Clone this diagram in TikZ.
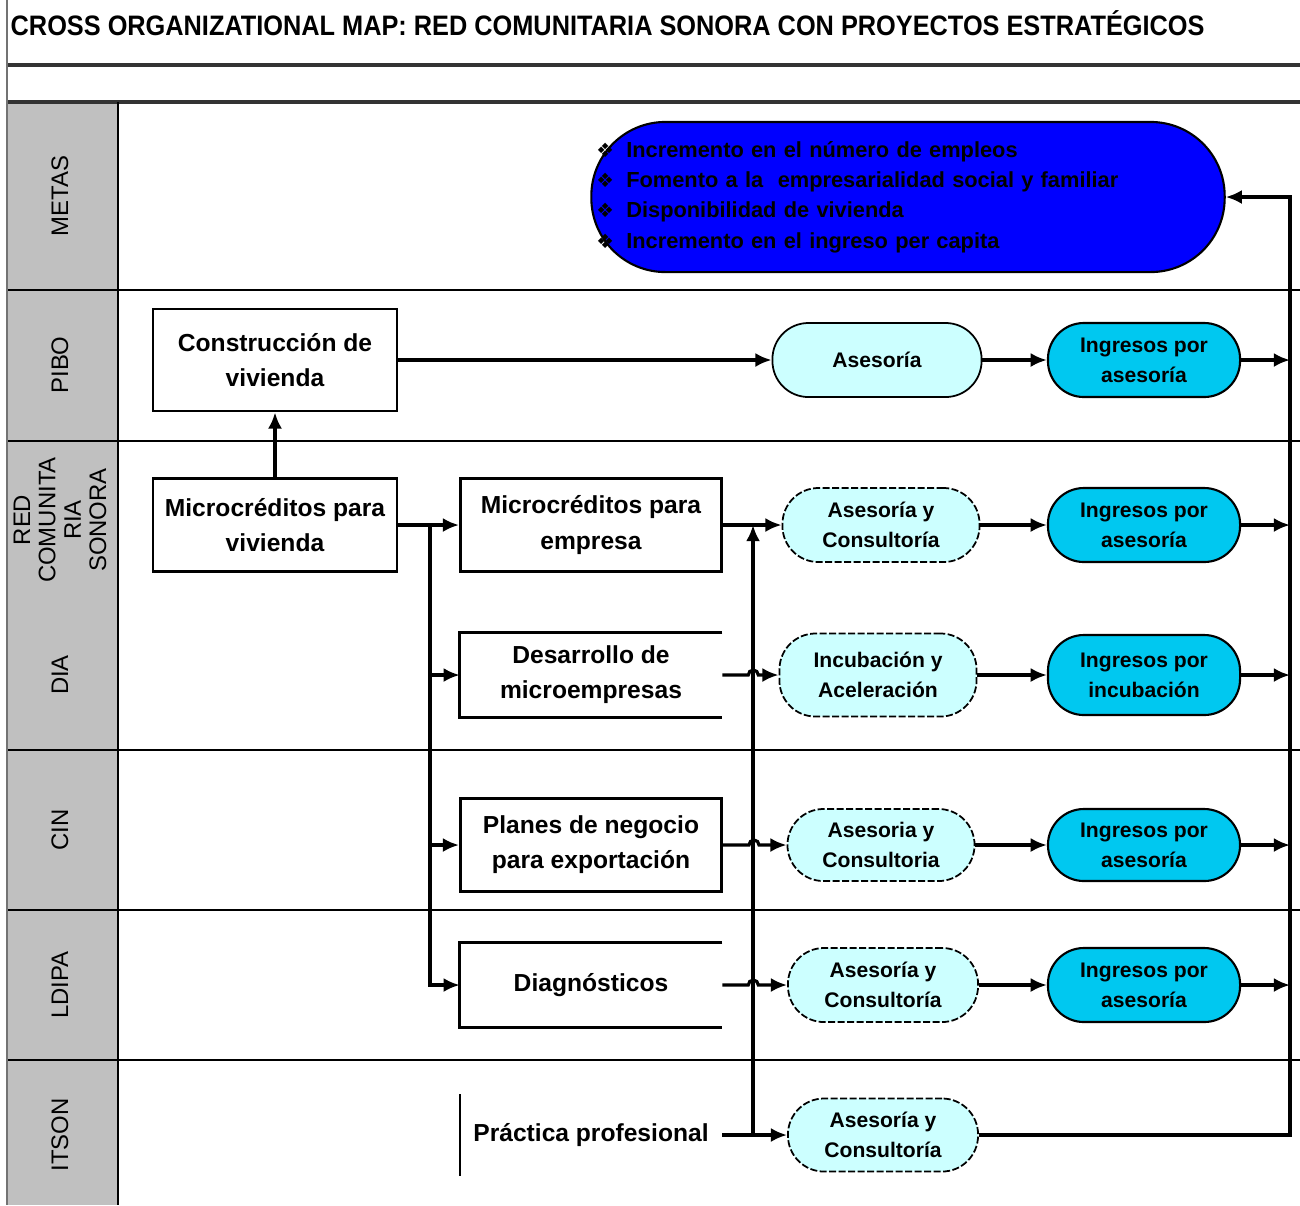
\documentclass[tikz,border=0pt]{standalone}
\usepackage{fontspec}
\setmainfont{Liberation Sans}
\newfontfamily\symfont{DejaVu Sans}
\usetikzlibrary{arrows.meta}

\definecolor{gris}{RGB}{192,192,192}
\definecolor{celeste}{RGB}{204,255,255}
\definecolor{cian}{RGB}{0,200,240}
\definecolor{azul}{RGB}{0,0,255}
\newcommand{\vineta}{\makebox[0.3cm][l]{\symfont\fontsize{5.6}{8.6}\selectfont ❖}}

\begin{document}
\begin{tikzpicture}[x=0.01cm,y=-0.01cm,
  carril/.style={rotate=90,align=center,font=\fontsize{6.8}{7}\selectfont},
  caja/.style={draw,line width=0.8pt,align=center,inner sep=0pt,font=\bfseries\fontsize{7}{10}\selectfont},
  hueco/.style={align=center,inner sep=0pt,font=\bfseries\fontsize{7}{10}\selectfont},
  pale/.style={draw,fill=celeste,line width=0.5pt,dash pattern=on 2pt off 0.7pt,rounded corners=3.6mm,align=center,inner sep=0pt,font=\bfseries\fontsize{6}{8.5}\selectfont},
  ingreso/.style={draw,fill=cian,line width=0.6pt,rounded corners=3.6mm,align=center,inner sep=0pt,minimum width=1.92cm,font=\bfseries\fontsize{6}{8.5}\selectfont},
  flecha/.style={line width=0.9pt,-{Latex[length=4.6pt,width=4pt]}},
  linea/.style={line width=0.9pt}]
\useasboundingbox (0,0) rectangle (1300,1205);
%\draw[step=100] (0,0) grid (1300,1205);

% carriles
\fill[gris] (8,102) rectangle (118,1205);
\draw[black!55,line width=0.4pt] (7,0) -- (7,1205);
\draw[black!80,line width=1pt] (8,65) -- (1300,65);
\draw[black!80,line width=1pt] (8,102) -- (1300,102);
\foreach \y in {290,441,750,910,1060}
  \draw[line width=0.6pt] (8,\y) -- (1300,\y);
\draw[line width=0.6pt] (118,102) -- (118,1205);

\node[anchor=west,inner sep=0pt] (titulo) at (10,23)
  {\scalebox{0.9}[1]{\bfseries\fontsize{8}{9}\selectfont CROSS ORGANIZATIONAL MAP: RED COMUNITARIA SONORA CON PROYECTOS ESTRATÉGICOS}};

\node[carril] (lmetas) at (60,196) {METAS};
\node[carril,font=\fontsize{6.8}{7.2}\selectfont] (lred) at (60,520) {RED\\COMUNITA\\RIA\\SONORA};
\node[carril] (lpibo) at (60,365) {PIBO};
\node[carril] (ldia) at (60,675) {DIA};
\node[carril] (lcin) at (60,830) {CIN};
\node[carril] (lldipa) at (60,985) {LDIPA};
\node[carril] (litson) at (60,1135) {ITSON};

% metas
\node[draw,fill=azul,line width=0.6pt,rounded corners=7.4mm,minimum height=1.5cm,
  text width=6.23cm,inner xsep=0.05cm,align=left,font=\bfseries\fontsize{6.2}{8.6}\selectfont]
  (metas) at (908,197)
  {\vineta Incremento en el número de empleos\\
   \vineta Fomento a la \ empresarialidad social y familiar\\
   \vineta Disponibilidad de vivienda\\
   \vineta Incremento en el ingreso per capita};

% proyectos
\node[caja,minimum width=2.44cm,minimum height=1.02cm] (cons) at (275,360) {Construcción de\\vivienda};
\node[caja,minimum width=2.44cm,minimum height=0.93cm] (mviv) at (275,525) {Microcréditos para\\vivienda};
\node[caja,minimum width=2.61cm,minimum height=0.93cm] (memp) at (591,525) {Microcréditos para\\empresa};
\node[hueco,minimum width=2.61cm,minimum height=0.83cm] (desa) at (591,675) {Desarrollo de\\microempresas};
\node[caja,minimum width=2.61cm,minimum height=0.93cm] (plan) at (591,845) {Planes de negocio\\para exportación};
\node[hueco,minimum width=2.61cm,minimum height=0.83cm] (diag) at (591,985) {Diagnósticos};
\node[hueco,minimum width=2.61cm,minimum height=0.8cm] (prac) at (591,1135) {Práctica profesional};
\draw[line width=0.8pt] (desa.north east) -- (desa.north west) -- (desa.south west) -- (desa.south east);
\draw[line width=0.8pt] (diag.north east) -- (diag.north west) -- (diag.south west) -- (diag.south east);
\draw[line width=0.6pt] (prac.north west) -- (prac.south west);

% servicios
\node[pale,solid,minimum width=2.09cm,minimum height=0.74cm] (ase1) at (877,360) {Asesoría};
\node[pale,minimum width=1.97cm,minimum height=0.74cm] (ase2) at (881,525) {Asesoría y\\Consultoría};
\node[pale,minimum width=1.97cm,minimum height=0.83cm] (incu) at (878,675) {Incubación y\\Aceleración};
\node[pale,minimum width=1.87cm,minimum height=0.72cm] (ase4) at (881,845) {Asesoria y\\Consultoria};
\node[pale,minimum width=1.90cm,minimum height=0.74cm] (ase5) at (883,985) {Asesoría y\\Consultoría};
\node[pale,minimum width=1.90cm,minimum height=0.73cm] (ase6) at (883,1135) {Asesoría y\\Consultoría};

\node[ingreso,minimum height=0.74cm] (ing1) at (1144,360) {Ingresos por\\asesoría};
\node[ingreso,minimum height=0.74cm] (ing2) at (1144,525) {Ingresos por\\asesoría};
\node[ingreso,minimum height=0.80cm] (ing3) at (1144,675) {Ingresos por\\incubación};
\node[ingreso,minimum height=0.72cm] (ing4) at (1144,845) {Ingresos por\\asesoría};
\node[ingreso,minimum height=0.74cm] (ing5) at (1144,985) {Ingresos por\\asesoría};

\coordinate (rama) at (430,525);
\coordinate (sube) at (753,1135);
\coordinate (giro) at (1290,1135);

% conectores
\draw[flecha] (mviv.north) -- (cons.south);
\draw[flecha] (cons.east) -- (ase1.west);
\draw[flecha] (mviv.east) -- (memp.west);
\draw[flecha] (rama) |- (desa.west);
\draw[flecha] (rama) |- (plan.west);
\draw[flecha] (rama) |- (diag.west);
\draw[flecha] (memp.east) -- (ase2.west);
\draw[flecha] (prac.east) -- (ase6.west);
\draw[flecha] (sube) -- (sube |- memp.east);
\draw[flecha] (desa.east) -- ++(26,0) arc[start angle=180,end angle=0,radius=0.5mm] -- (incu.west);
\draw[flecha] (plan.east) -- ++(26,0) arc[start angle=180,end angle=0,radius=0.5mm] -- (ase4.west);
\draw[flecha] (diag.east) -- ++(26,0) arc[start angle=180,end angle=0,radius=0.5mm] -- (ase5.west);

\draw[flecha] (ase1.east) -- (ing1.west);
\draw[flecha] (ase2.east) -- (ing2.west);
\draw[flecha] (incu.east) -- (ing3.west);
\draw[flecha] (ase4.east) -- (ing4.west);
\draw[flecha] (ase5.east) -- (ing5.west);

\draw[flecha] (ing1.east) -- (ing1.east -| giro);
\draw[flecha] (ing2.east) -- (ing2.east -| giro);
\draw[flecha] (ing3.east) -- (ing3.east -| giro);
\draw[flecha] (ing4.east) -- (ing4.east -| giro);
\draw[flecha] (ing5.east) -- (ing5.east -| giro);
\draw[flecha] (ase6.east) -- (giro) |- (metas.east);
\end{tikzpicture}
\end{document}
